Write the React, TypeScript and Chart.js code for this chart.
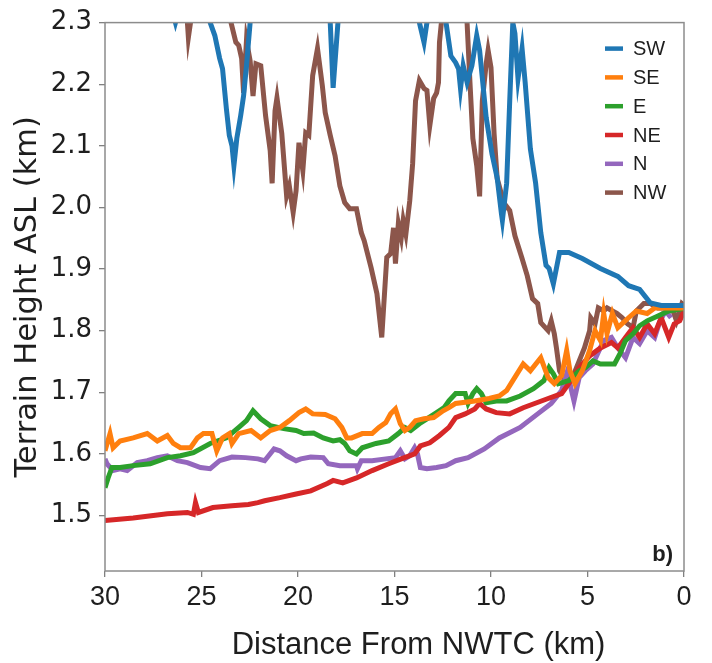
import React, { useEffect, useRef } from "react";
import { Chart, registerables } from "chart.js";

Chart.register(...registerables);

const seriesLabels = ["SW", "SE", "E", "NE", "N", "NW"];
const seriesColors = ["#1f77b4", "#ff7f0e", "#2ca02c", "#d62728", "#9467bd", "#8c564b"];
const xTicks = [0, 5, 10, 15, 20, 25, 30];
const yTicks = [1.5, 1.6, 1.7, 1.8, 1.9, 2.0, 2.1, 2.2, 2.3];
const xTitle = "Distance From NWTC (km)";
const yTitle = "Terrain Height ASL (km)";
const panelTag = "b)";

const swKm = [30.0, 26.61, 26.35, 26.09, 24.8, 24.55, 24.31, 24.06, 23.91, 23.71, 23.56, 23.42, 23.32, 23.17, 22.97, 22.82, 22.67, 22.48, 22.08, 18.59, 18.33, 18.18, 17.93, 17.58, 14.06, 13.71, 13.47, 13.32, 12.82, 12.33, 12.08, 11.83, 11.68, 11.58, 11.44, 11.24, 10.99, 10.74, 10.59, 10.25, 9.95, 9.68, 9.46, 9.41, 9.19, 9.03, 8.87, 8.76, 8.6, 8.39, 8.23, 7.96, 7.69, 7.42, 7.15, 6.99, 6.77, 6.45, 5.97, 5.27, 4.33, 3.43, 2.87, 2.3, 1.74, 1.18, 0.0];
const swVal = [2.4, 2.33, 2.3, 2.33, 2.35, 2.3, 2.279, 2.242, 2.225, 2.16, 2.117, 2.1, 2.068, 2.112, 2.149, 2.181, 2.23, 2.3, 2.36, 2.35, 2.3, 2.194, 2.3, 2.33, 2.33, 2.3, 2.268, 2.3, 2.33, 2.3, 2.246, 2.235, 2.225, 2.193, 2.23, 2.203, 2.23, 2.279, 2.255, 2.146, 2.087, 2.048, 1.99, 1.979, 2.039, 2.173, 2.3, 2.282, 2.209, 2.258, 2.203, 2.095, 2.04, 1.959, 1.906, 1.901, 1.876, 1.927, 1.927, 1.917, 1.901, 1.888, 1.873, 1.867, 1.845, 1.841, 1.841];

const seKm = [30.0, 29.74, 29.58, 29.22, 28.54, 27.81, 27.29, 26.77, 26.46, 26.09, 25.57, 25.21, 24.9, 24.46, 24.21, 23.91, 23.56, 23.42, 23.07, 22.43, 21.93, 21.44, 20.94, 20.45, 19.95, 19.6, 19.24, 18.59, 18.08, 17.73, 17.47, 17.22, 16.67, 16.16, 15.81, 15.45, 15.2, 14.95, 14.7, 14.46, 14.21, 13.91, 13.47, 12.97, 12.48, 12.18, 11.83, 10.84, 10.1, 9.57, 9.19, 8.87, 8.33, 7.96, 7.42, 7.04, 6.72, 6.34, 6.08, 5.91, 5.65, 5.27, 4.89, 4.61, 4.33, 4.16, 3.99, 3.71, 3.43, 2.87, 2.47, 1.91, 1.52, 1.18, 0.0];
const seVal = [1.605, 1.633, 1.61, 1.621, 1.626, 1.633, 1.621, 1.63, 1.617, 1.61, 1.61, 1.626, 1.633, 1.633, 1.605, 1.626, 1.633, 1.617, 1.633, 1.638, 1.626, 1.638, 1.643, 1.654, 1.667, 1.673, 1.665, 1.664, 1.657, 1.643, 1.626, 1.626, 1.633, 1.633, 1.643, 1.651, 1.665, 1.673, 1.649, 1.638, 1.643, 1.654, 1.657, 1.659, 1.67, 1.675, 1.682, 1.686, 1.69, 1.694, 1.703, 1.719, 1.746, 1.735, 1.756, 1.724, 1.714, 1.727, 1.768, 1.735, 1.714, 1.735, 1.768, 1.8, 1.784, 1.828, 1.795, 1.828, 1.805, 1.821, 1.832, 1.828, 1.837, 1.837, 1.837];

const eKm = [30.0, 29.84, 29.64, 29.22, 28.54, 27.66, 26.77, 26.09, 25.42, 24.55, 23.71, 23.07, 22.67, 22.33, 21.93, 21.44, 20.74, 20.1, 19.7, 19.19, 18.69, 18.18, 17.83, 17.58, 17.32, 16.97, 16.67, 15.96, 15.3, 14.8, 14.46, 14.16, 13.71, 13.32, 12.82, 12.43, 12.18, 11.83, 11.34, 11.19, 10.94, 10.74, 10.5, 10.25, 9.73, 9.19, 8.49, 7.8, 7.26, 6.99, 6.77, 6.51, 5.97, 5.43, 5.11, 4.72, 4.33, 3.6, 3.31, 3.03, 2.64, 2.3, 1.91, 1.35, 0.79, 0.0];
const eVal = [1.545, 1.561, 1.578, 1.578, 1.581, 1.584, 1.594, 1.597, 1.602, 1.617, 1.626, 1.643, 1.654, 1.67, 1.657, 1.646, 1.641, 1.638, 1.633, 1.634, 1.626, 1.621, 1.623, 1.617, 1.605, 1.6, 1.61, 1.617, 1.621, 1.633, 1.643, 1.638, 1.649, 1.657, 1.667, 1.675, 1.686, 1.698, 1.698, 1.682, 1.698, 1.706, 1.698, 1.683, 1.686, 1.686, 1.694, 1.706, 1.719, 1.74, 1.73, 1.714, 1.719, 1.735, 1.74, 1.751, 1.746, 1.746, 1.763, 1.784, 1.795, 1.808, 1.816, 1.824, 1.832, 1.836];

const neKm = [30.0, 28.54, 26.77, 25.73, 25.42, 25.31, 25.16, 24.41, 23.42, 22.57, 22.08, 21.73, 20.94, 20.1, 19.34, 18.48, 18.18, 17.68, 16.97, 16.16, 15.3, 14.65, 13.96, 13.66, 13.17, 12.67, 12.18, 11.83, 11.34, 10.84, 10.59, 10.25, 9.73, 9.03, 8.33, 7.04, 6.34, 5.97, 5.43, 4.89, 4.33, 3.76, 3.43, 3.03, 2.64, 2.3, 1.91, 1.52, 1.18, 0.79, 0.51, 0.22, 0.0];
const neVal = [1.492, 1.496, 1.503, 1.505, 1.502, 1.521, 1.505, 1.513, 1.516, 1.518, 1.521, 1.524, 1.529, 1.535, 1.54, 1.552, 1.557, 1.553, 1.561, 1.573, 1.584, 1.592, 1.6, 1.613, 1.618, 1.63, 1.643, 1.659, 1.665, 1.673, 1.682, 1.673, 1.667, 1.665, 1.675, 1.69, 1.698, 1.714, 1.74, 1.759, 1.772, 1.781, 1.772, 1.789, 1.805, 1.789, 1.811, 1.795, 1.821, 1.789, 1.811, 1.816, 1.832];

const nKm = [30.0, 29.9, 29.58, 29.22, 28.85, 28.33, 27.81, 27.29, 26.77, 26.25, 25.73, 25.05, 24.55, 24.06, 23.42, 22.72, 22.08, 21.73, 21.24, 20.94, 20.59, 20.1, 19.85, 19.34, 18.69, 18.43, 17.83, 16.97, 16.92, 16.72, 16.16, 15.45, 14.95, 14.7, 14.46, 14.21, 13.96, 13.81, 13.66, 13.32, 12.82, 12.33, 11.83, 11.19, 10.35, 9.57, 8.49, 7.58, 6.88, 6.34, 6.08, 5.91, 5.7, 5.43, 5.11, 4.72, 4.16, 3.76, 3.43, 3.03, 2.64, 2.3, 1.91, 1.52, 1.24, 0.96, 0.67];
const nVal = [1.592, 1.584, 1.573, 1.576, 1.573, 1.586, 1.589, 1.594, 1.597, 1.589, 1.586, 1.578, 1.576, 1.589, 1.595, 1.594, 1.592, 1.589, 1.608, 1.605, 1.597, 1.589, 1.592, 1.595, 1.594, 1.584, 1.581, 1.581, 1.576, 1.589, 1.589, 1.592, 1.594, 1.605, 1.592, 1.597, 1.61, 1.6, 1.578, 1.576, 1.578, 1.581, 1.589, 1.594, 1.608, 1.626, 1.643, 1.665, 1.682, 1.703, 1.73, 1.714, 1.686, 1.724, 1.735, 1.746, 1.784, 1.789, 1.772, 1.756, 1.789, 1.779, 1.8, 1.789, 1.816, 1.832, 1.821];

const nwKm = [30.0, 25.83, 25.73, 25.68, 25.57, 25.42, 23.66, 23.47, 23.22, 23.07, 22.92, 22.82, 22.67, 22.48, 22.33, 22.18, 21.93, 21.68, 21.44, 21.34, 21.19, 21.09, 20.84, 20.59, 20.45, 20.25, 20.1, 19.95, 19.75, 19.6, 19.44, 19.24, 18.99, 18.74, 18.59, 18.33, 18.08, 17.83, 17.58, 17.32, 16.97, 16.72, 16.57, 16.21, 15.91, 15.66, 15.4, 15.2, 15.05, 14.95, 14.8, 14.65, 14.55, 14.41, 14.21, 14.06, 13.91, 13.71, 13.47, 13.32, 13.17, 12.97, 12.82, 12.72, 12.67, 12.57, 12.33, 11.44, 11.24, 11.09, 10.94, 10.74, 10.59, 10.45, 10.25, 10.15, 10.0, 9.84, 9.68, 9.46, 9.3, 9.03, 8.76, 8.39, 8.12, 7.85, 7.58, 7.42, 7.04, 6.88, 6.72, 6.61, 6.45, 6.18, 5.97, 5.7, 5.43, 5.16, 4.89, 4.83, 4.61, 4.44, 4.16, 3.99, 3.71, 3.48, 3.2, 2.92, 2.64, 2.47, 2.08, 1.74, 1.35, 0.96, 0.62, 0.39, 0.11, 0.0];
const nwVal = [2.4, 2.32, 2.3, 2.276, 2.3, 2.33, 2.33, 2.3, 2.268, 2.263, 2.242, 2.186, 2.271, 2.238, 2.181, 2.233, 2.23, 2.149, 2.092, 2.039, 2.157, 2.178, 2.12, 2.019, 2.035, 1.992, 2.027, 2.105, 2.06, 2.121, 2.117, 2.214, 2.258, 2.198, 2.154, 2.117, 2.084, 2.035, 2.008, 1.998, 1.998, 1.959, 1.946, 1.902, 1.86, 1.789, 1.919, 1.925, 1.967, 1.909, 1.974, 1.951, 1.979, 1.957, 2.011, 2.071, 2.173, 2.206, 2.193, 2.19, 2.133, 2.177, 2.186, 2.203, 2.268, 2.3, 2.34, 2.34, 2.3, 2.203, 2.112, 2.068, 2.018, 2.173, 2.233, 2.255, 2.227, 2.12, 2.047, 2.022, 2.006, 1.995, 1.954, 1.917, 1.889, 1.852, 1.844, 1.813, 1.8, 1.816, 1.795, 1.772, 1.735, 1.719, 1.714, 1.73, 1.751, 1.772, 1.8, 1.821, 1.811, 1.837, 1.832, 1.837, 1.832, 1.828, 1.821, 1.811, 1.805, 1.832, 1.844, 1.844, 1.837, 1.837, 1.837, 1.816, 1.844, 1.841];

const seriesKm = [swKm, seKm, eKm, neKm, nKm, nwKm];
const seriesVal = [swVal, seVal, eVal, neVal, nVal, nwVal];

const DEJAVU = "'DejaVu Sans', sans-serif";
const ARIAL = "'Liberation Sans', Arial, sans-serif";
const TEXT = "#1e1e1e";

const framePlugin = {
  id: "frameAndLegend",
  afterDatasetsDraw(chart: any) {
    const { ctx, chartArea } = chart;
    const { left, right, top, bottom } = chartArea;
    ctx.save();
    ctx.strokeStyle = "#8c8c8c";
    ctx.lineWidth = 1.5;
    ctx.strokeRect(left, top, right - left, bottom - top);

    // legend inside the axes (upper right)
    ctx.font = `20px ${ARIAL}`;
    ctx.textBaseline = "middle";
    ctx.textAlign = "left";
    chart.data.datasets.forEach((ds: any, i: number) => {
      const y = top + 26 + i * 28.8;
      ctx.strokeStyle = ds.borderColor;
      ctx.lineWidth = 4.5;
      ctx.beginPath();
      ctx.moveTo(right - 79, y);
      ctx.lineTo(right - 61, y);
      ctx.stroke();
      ctx.fillStyle = TEXT;
      ctx.fillText(ds.label, right - 51, y + 1);
    });

    ctx.font = `bold 22px ${ARIAL}`;
    ctx.textAlign = "right";
    ctx.textBaseline = "alphabetic";
    ctx.fillStyle = TEXT;
    ctx.fillText(panelTag, right - 11, bottom - 10);

    // x-axis title (sits slightly right of the axis centre in the original)
    ctx.font = `31px ${ARIAL}`;
    ctx.textAlign = "center";
    ctx.textBaseline = "alphabetic";
    ctx.fillText(xTitle, left + (right - left) / 2 + 24, 654);
    ctx.restore();
  },
};

export default function App() {
  const ref = useRef<HTMLCanvasElement | null>(null);

  useEffect(() => {
    if (!ref.current) return;
    const datasets = seriesLabels.map((label, i) => ({
      label,
      data: seriesKm[i].map((x, j) => ({ x, y: seriesVal[i][j] })),
      borderColor: seriesColors[i],
      backgroundColor: seriesColors[i],
      borderWidth: 5,
      pointRadius: 0,
      tension: 0,
      fill: false,
      clip: 0,
    }));

    const chart = new Chart(ref.current, {
      type: "line",
      data: { datasets },
      options: {
        animation: false,
        responsive: false,
        maintainAspectRatio: false,
        layout: { padding: { left: 0, top: 22, right: 28, bottom: 0 } },
        plugins: {
          legend: { display: false },
          tooltip: { enabled: false },
        },
        scales: {
          x: {
            type: "linear",
            reverse: true,
            min: 0,
            max: 30,
            border: { display: false },
            grid: {
              drawOnChartArea: false,
              drawTicks: true,
              tickLength: 6,
              color: "#808080",
              lineWidth: 1.3,
            },
            afterBuildTicks: (scale: any) => {
              scale.ticks = xTicks.map((v) => ({ value: v }));
            },
            afterFit: (scale: any) => {
              scale.height = 92;
            },
            ticks: {
              padding: 4,
              color: TEXT,
              font: { family: ARIAL, size: 27 },
              maxRotation: 0,
              autoSkip: false,
              callback: (v: any) => String(v),
            },
            title: { display: false, text: xTitle },
          },
          y: {
            type: "linear",
            min: 1.41,
            max: 2.3,
            border: { display: false },
            grid: {
              drawOnChartArea: false,
              drawTicks: true,
              tickLength: 6,
              color: "#808080",
              lineWidth: 1.3,
            },
            afterBuildTicks: (scale: any) => {
              scale.ticks = yTicks.map((v) => ({ value: v }));
            },
            afterFit: (scale: any) => {
              scale.width = 105;
            },
            ticks: {
              padding: 7,
              color: TEXT,
              font: { family: DEJAVU, size: 26 },
              autoSkip: false,
              callback: (v: any) => Number(v).toFixed(1),
            },
            title: {
              display: true,
              text: yTitle,
              color: TEXT,
              font: { family: DEJAVU, size: 30.5 },
              padding: { top: 10, bottom: 0 },
            },
          },
        },
      },
      plugins: [framePlugin],
    });
    return () => chart.destroy();
  }, []);

  return (
    <div style={{ position: "fixed", left: 0, top: 0, width: 712, height: 663, background: "#fff" }}>
      <canvas ref={ref} width={712} height={663} />
    </div>
  );
}
